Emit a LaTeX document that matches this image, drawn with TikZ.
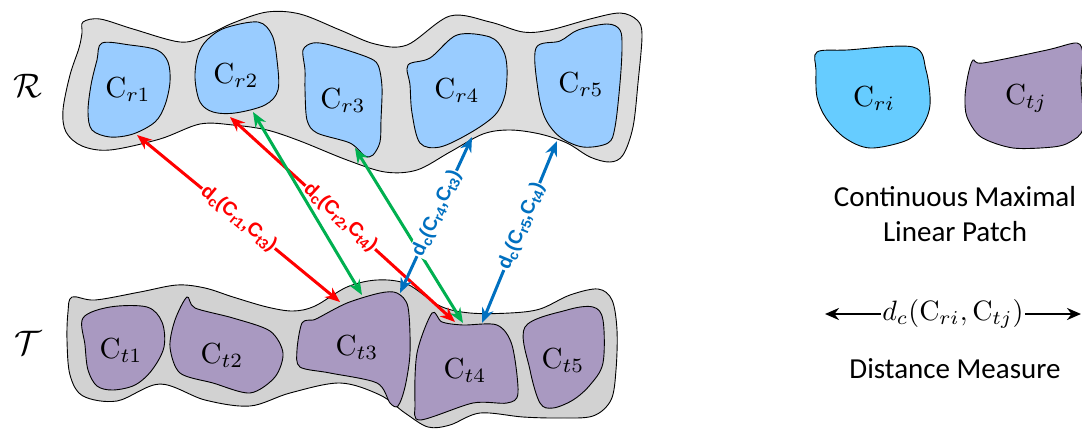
\documentclass[tikz,border=0pt]{standalone}
\usepackage{fontspec}
\newfontfamily\lblfont{Liberation Sans}
\newfontfamily\legfont{Carlito}
\usetikzlibrary{arrows.meta}
\newcommand\sbs[1]{\raisebox{-0.32ex}{\fontsize{14}{14}\selectfont #1}}
\definecolor{rgray}{HTML}{DDDDDD}
\definecolor{tgray}{HTML}{D2D2D2}
\definecolor{rcell}{HTML}{99CCFF}
\definecolor{tcell}{HTML}{A999C1}
\definecolor{lcell}{HTML}{66CCFF}
\definecolor{ared}{HTML}{FF0000}
\definecolor{agreen}{HTML}{00B050}
\definecolor{ablue}{HTML}{0070C0}
\begin{document}
\begin{tikzpicture}[x=1pt,y=-1pt,
  outline/.style={draw=black,line width=0.9pt},
  clabel/.style={scale=2.9, inner sep=0pt},
  setlabel/.style={scale=3.4, inner sep=0pt},
  dist/.style={line width=3pt,{Stealth[length=15pt,width=12pt]}-{Stealth[length=15pt,width=12pt]}},
  dlabel/.style={font=\lblfont\bfseries\fontsize{19.5}{24}\selectfont, fill=white, inner sep=1pt, sloped},
  legtext/.style={font=\legfont\fontsize{29}{35}\selectfont, align=center, inner sep=0pt},
]
\useasboundingbox (0,0) rectangle (1082,432);

% ---------- R blob ----------
\filldraw[outline, fill=rgray] plot[smooth cycle, tension=0.55] coordinates {
 (83,22) (100,19) (133,29) (180,42) (205,36) (233,23) (267,12) (300,14) (340,30) (375,44) (407,45)
 (450,16) (490,22) (523,32) (550,30) (590,19) (620,13) (637,20) (642,35) (638,83) (633,127)
 (623,155) (610,162) (590,157) (567,143) (540,134) (510,130) (483,134) (450,152) (417,170) (385,172)
 (347,160) (300,141) (267,130) (233,125) (200,124) (160,139) (110,150) (82,146) (66,132) (63,110)
 (70,75) (79,48) (82,33)};

\filldraw[outline, fill=rcell] plot[smooth cycle, tension=0.55] coordinates {
 (102,43) (130,45) (157,50) (168,62) (170,82) (165,105) (155,122) (133,134) (110,137) (92,130) (88,112) (91,85) (97,60)};
\filldraw[outline, fill=rcell] plot[smooth cycle, tension=0.55] coordinates {
 (207,40) (225,28) (258,22) (272,35) (277,60) (278,90) (265,105) (235,113) (213,112) (200,102) (195,78) (198,55)};
\filldraw[outline, fill=rcell] plot[smooth cycle, tension=0.5] coordinates {
 (303,50) (313,43) (330,45) (367,57) (378,65) (382,87) (381,120) (380,142) (373,155) (365,156) (350,143) (317,133) (307,120) (305,90) (305,70)};
\filldraw[outline, fill=rcell] plot[smooth cycle, tension=0.55] coordinates {
 (408,65) (430,58) (457,35) (490,37) (503,50) (507,68) (505,95) (495,115) (470,133) (440,147) (420,143) (412,113) (410,85)};
\filldraw[outline, fill=rcell] plot[smooth cycle, tension=0.55] coordinates {
 (536,48) (560,41) (578,30) (607,24) (620,30) (622,48) (620,83) (615,127) (608,143) (583,147) (560,137) (545,118) (538,90)};

\node[clabel] (cr1) at (128,89) {$\mathrm{C}_{r1}$};
\node[clabel] (cr2) at (236,75) {$\mathrm{C}_{r2}$};
\node[clabel] (cr3) at (343,100) {$\mathrm{C}_{r3}$};
\node[clabel] (cr4) at (457,90) {$\mathrm{C}_{r4}$};
\node[clabel] (cr5) at (581,84) {$\mathrm{C}_{r5}$};

% ---------- T blob ----------
\filldraw[outline, fill=tgray] plot[smooth cycle, tension=0.55] coordinates {
 (72,297) (95,300) (140,292) (177,285) (205,288) (233,297) (267,307) (293,311) (315,306) (347,287)
 (377,280) (407,284) (440,306) (470,313) (510,313) (540,309) (570,295) (598,289) (612,300) (617,330)
 (616,370) (611,400) (593,416) (560,418) (523,417) (480,413) (450,425) (428,427) (405,413) (380,395)
 (340,383) (290,393) (250,406) (205,400) (160,384) (117,401) (83,396) (70,375) (67,340) (68,312)};

\filldraw[outline, fill=tcell] plot[smooth cycle, tension=0.55] coordinates {
 (83,318) (110,307) (147,307) (162,322) (164,347) (152,370) (135,385) (113,390) (97,386) (88,370) (85,345)};
\filldraw[outline, fill=tcell] plot[smooth cycle, tension=0.5] coordinates {
 (187,297) (195,308) (233,318) (270,331) (283,353) (275,377) (250,393) (213,383) (180,373) (170,347) (175,320)};
\filldraw[outline, fill=tcell] plot[smooth cycle, tension=0.5] coordinates {
 (302,323) (313,320) (318,318) (347,303) (380,293) (397,293) (408,307) (410,353) (405,387) (398,406) (390,403) (377,383) (330,373) (300,367) (297,350)};
\filldraw[outline, fill=tcell] plot[smooth cycle, tension=0.5] coordinates {
 (432,313) (442,322) (463,325) (497,325) (512,345) (518,393) (507,403) (473,403) (420,420) (415,403) (417,353)};
\filldraw[outline, fill=tcell] plot[smooth cycle, tension=0.55] coordinates {
 (525,327) (567,310) (593,307) (603,320) (603,363) (590,385) (573,400) (553,408) (540,403) (530,370)};

\node[clabel] (ct1) at (121,350) {$\mathrm{C}_{t1}$};
\node[clabel] (ct2) at (222,355) {$\mathrm{C}_{t2}$};
\node[clabel] (ct3) at (357,347) {$\mathrm{C}_{t3}$};
\node[clabel] (ct4) at (465,370) {$\mathrm{C}_{t4}$};
\node[clabel] (ct5) at (563,360) {$\mathrm{C}_{t5}$};

\node[setlabel] (rset) at (28,86) {$\mathcal{R}$};
\node[setlabel] (tset) at (28,343) {$\mathcal{T}$};

% ---------- distance arrows ----------
\coordinate (r1a) at (137,135); \coordinate (r1b) at (340,302);
\coordinate (r2a) at (230,117); \coordinate (r2b) at (455,322);
\coordinate (g1a) at (253,112); \coordinate (g1b) at (362,295);
\coordinate (g2a) at (355,148); \coordinate (g2b) at (463,323);
\coordinate (b1a) at (400,293); \coordinate (b1b) at (472,137);
\coordinate (b2a) at (482,323); \coordinate (b2b) at (557,141);

\draw[dist, ared] (r1a) -- node[dlabel, pos=0.5] (l1) {d\sbs{c}(C\sbs{r1},C\sbs{t3})} (r1b);
\draw[dist, ared] (r2a) -- node[dlabel, pos=0.49] (l2) {d\sbs{c}(C\sbs{r2},C\sbs{t4})} (r2b);
\draw[dist, agreen] (g1a) -- (g1b);
\draw[dist, agreen] (g2a) -- (g2b);
\draw[dist, ablue] (b1a) -- node[dlabel, pos=0.51] (l3) {d\sbs{c}(C\sbs{r4},C\sbs{t3})} (b1b);
\draw[dist, ablue] (b2a) -- node[dlabel, pos=0.53] (l4) {d\sbs{c}(C\sbs{r5},C\sbs{t4})} (b2b);

% ---------- legend ----------
\filldraw[outline, fill=lcell] plot[smooth cycle, tension=0.55] coordinates {
 (817,52) (847,50) (913,47) (926,70) (930,105) (921,128) (905,141) (870,148) (845,138) (826,118) (817,97) (816,70)};
\filldraw[outline, fill=tcell] plot[smooth cycle, tension=0.5] coordinates {
 (973,60) (983,63) (1047,50) (1077,43) (1083,55) (1081,80) (1083,128) (1070,142) (1053,147) (1013,148) (981,137) (967,117) (965,97) (968,75)};
\node[clabel] (cri) at (874,98) {$\mathrm{C}_{ri}$};
\node[clabel] (ctj) at (1026,98) {$\mathrm{C}_{tj}$};

\node[legtext] (cmlp) at (955,214) {Continuous Maximal\\Linear Patch};

\coordinate (la) at (825,314); \coordinate (lb) at (1081,314);
\draw[line width=2.8pt, {Stealth[length=14pt,width=12pt]}-{Stealth[length=14pt,width=12pt]}] (la) -- node[fill=white, inner sep=0.4pt, scale=2.8] (ldc) {$d_c(\mathrm{C}_{ri},\mathrm{C}_{tj})$} (lb);

\node[legtext] (dm) at (955,369) {Distance Measure};
\end{tikzpicture}
\end{document}
